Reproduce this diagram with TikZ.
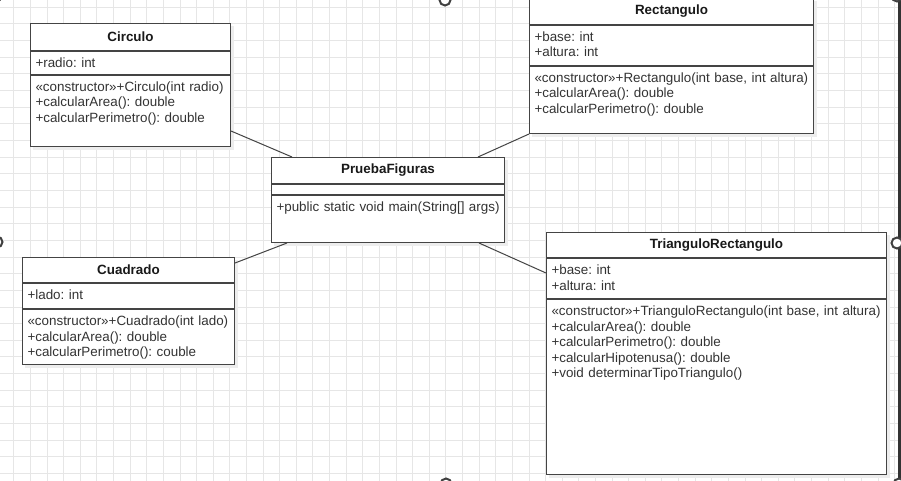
\documentclass[tikz,border=0pt]{standalone}
\usepackage{fontspec}
\setmainfont{Liberation Sans}
\usetikzlibrary{positioning, calc, backgrounds}

\definecolor{umlline}{HTML}{444444}
\definecolor{umltext}{HTML}{333333}
\definecolor{gridgray}{HTML}{E6E6E6}

\frenchspacing

\begin{document}
\begin{tikzpicture}[
  x=1pt, y=-1pt,
  every node/.style={font=\fontsize{13.4}{15.5}\selectfont, text=umltext},
  classname/.style={rectangle, draw=umlline, line width=1pt, fill=white, inner sep=0pt,
    anchor=north west, font=\fontsize{13.4}{15.5}\selectfont\bfseries, text=black!90},
  classpart/.style={rectangle, draw=umlline, line width=1pt, fill=white, align=left,
    inner xsep=5pt, inner ysep=6pt, text height=10pt},
  link/.style={draw=umlline, line width=1pt},
  gridline/.style={draw=gridgray, line width=1pt},
  handle/.style={draw=black!75, line width=2pt, fill=white},
]
  \useasboundingbox (0,0) rectangle (901,481);

  % grid of the canvas
  \begin{scope}[on background layer]
    \fill[white] (0,0) rectangle (901,481);
    \foreach \i in {0,...,53}
      \draw[gridline] ({13.8+16.62*\i},0) -- ++(0,481);
    \foreach \j in {0,...,28}
      \draw[gridline] (0,{7.3+16.65*\j}) -- ++(901,0);
  \end{scope}

  % classes
  \node[classname, minimum width=200pt, minimum height=27pt] (circulo) at (30,23) {Circulo};
  \node[classpart, text width=190pt, text depth=1pt, below=0pt of circulo] (circulo-at) {+radio: int};
  \node[classpart, text width=190pt, text depth=49pt, below=0pt of circulo-at] (circulo-op) {
    «constructor»+Circulo(int radio)\\
    +calcularArea(): double\\
    +calcularPerimetro(): double};

  \node[classname, minimum width=284pt, minimum height=26pt] (rect) at (529,-2) {Rectangulo};
  \node[classpart, text width=274pt, text depth=18pt, below=0pt of rect] (rect-at) {
    +base: int\\
    +altura: int};
  \node[classpart, text width=274pt, text depth=45pt, below=0pt of rect-at] (rect-op) {
    «constructor»+Rectangulo(int base, int altura)\\
    +calcularArea(): double\\
    +calcularPerimetro(): double};

  \node[classname, minimum width=233pt, minimum height=26pt] (prueba) at (271,157) {PruebaFiguras};
  \node[classpart, text width=223pt, text height=0pt, text depth=0pt, inner ysep=5pt,
    below=0pt of prueba] (prueba-at) {};
  \node[classpart, text width=223pt, text depth=25pt, below=0pt of prueba-at] (prueba-op) {
    \mbox{+public static void main(String[] args)}};

  \node[classname, minimum width=212pt, minimum height=25pt] (cuadrado) at (22,257) {Cuadrado};
  \node[classpart, text width=202pt, text depth=3pt, below=0pt of cuadrado] (cuadrado-at) {+lado: int};
  \node[classpart, text width=202pt, text depth=33pt, below=0pt of cuadrado-at] (cuadrado-op) {
    «constructor»+Cuadrado(int lado)\\
    +calcularArea(): double\\
    +calcularPerimetro(): couble};

  \node[classname, minimum width=340pt, minimum height=25pt] (tri) at (546,232) {TrianguloRectangulo};
  \node[classpart, text width=330pt, text depth=18pt, below=0pt of tri] (tri-at) {
    +base: int\\
    +altura: int};
  \node[classpart, text width=330pt, text depth=153pt, below=0pt of tri-at] (tri-op) {
    \mbox{«constructor»+TrianguloRectangulo(int base, int altura)}\\
    +calcularArea(): double\\
    +calcularPerimetro(): double\\
    +calcularHipotenusa(): double\\
    +void determinarTipoTriangulo()};

  % shadows
  \begin{scope}[on background layer]
    \foreach \hd/\ft in {circulo/circulo-op, rect/rect-op, prueba/prueba-op,
                         cuadrado/cuadrado-op, tri/tri-op}
      \fill[black!7] ($(\hd.north west)+(3,3)$) rectangle ($(\ft.south east)+(3,3)$);
  \end{scope}

  % links
  \draw[link] ($(circulo-op.south east)+(0,-16)$) -- ($(prueba.north west)+(21,0)$);
  \draw[link] (rect-op.south west) -- ($(prueba.north east)+(-27,0)$);
  \draw[link] ($(prueba-op.south west)+(16,0)$) -- ($(cuadrado.north east)+(0,6)$);
  \draw[link] ($(prueba-op.south east)+(-26,0)$) -- ($(tri-at.north west)+(0,15)$);

  % selection handles
  \draw[line width=3pt, black!80] (899.5,0) -- (899.5,481);
  \foreach \p in {(-4,-4), (445,0), (897,-4), (-3,242), (897,243), (446,484), (899,484)}
    \draw[handle] \p circle (5.5pt);
\end{tikzpicture}
\end{document}
